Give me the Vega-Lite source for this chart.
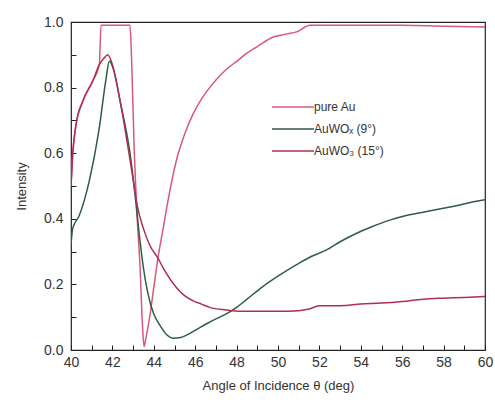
{
  "$schema": "https://vega.github.io/schema/vega-lite/v6.json",
  "width": 414,
  "height": 328,
  "autosize": "none",
  "padding": {"left": 71, "top": 22, "right": 10, "bottom": 54},
  "background": "white",
  "config": {
    "font": "Liberation Sans",
    "view": {"stroke": "#222", "strokeWidth": 1.2},
    "axis": {"grid": false, "domain": false, "labelColor": "#333", "titleColor": "#333", "labelFont": "Liberation Sans", "titleFont": "Liberation Sans", "titleFontWeight": "normal", "labelFontSize": 14, "titleFontSize": 13}
  },
  "data": {"values": [
    {"angle": 40.0, "intensity": 0.50, "series": "pure Au"},
    {"angle": 40.08, "intensity": 0.595, "series": "pure Au"},
    {"angle": 40.24, "intensity": 0.686, "series": "pure Au"},
    {"angle": 40.56, "intensity": 0.757, "series": "pure Au"},
    {"angle": 41.05, "intensity": 0.82, "series": "pure Au"},
    {"angle": 41.37, "intensity": 0.87, "series": "pure Au"},
    {"angle": 41.45, "intensity": 0.99, "series": "pure Au"},
    {"angle": 42.0, "intensity": 0.99, "series": "pure Au"},
    {"angle": 42.5, "intensity": 0.99, "series": "pure Au"},
    {"angle": 42.85, "intensity": 0.99, "series": "pure Au"},
    {"angle": 42.92, "intensity": 0.9, "series": "pure Au"},
    {"angle": 43.05, "intensity": 0.62, "series": "pure Au"},
    {"angle": 43.2, "intensity": 0.4, "series": "pure Au"},
    {"angle": 43.33, "intensity": 0.26, "series": "pure Au"},
    {"angle": 43.45, "intensity": 0.08, "series": "pure Au"},
    {"angle": 43.53, "intensity": 0.01, "series": "pure Au"},
    {"angle": 43.6, "intensity": 0.03, "series": "pure Au"},
    {"angle": 43.8, "intensity": 0.1, "series": "pure Au"},
    {"angle": 44.0, "intensity": 0.19, "series": "pure Au"},
    {"angle": 44.2, "intensity": 0.28, "series": "pure Au"},
    {"angle": 44.45, "intensity": 0.37, "series": "pure Au"},
    {"angle": 44.7, "intensity": 0.46, "series": "pure Au"},
    {"angle": 45.1, "intensity": 0.58, "series": "pure Au"},
    {"angle": 45.5, "intensity": 0.66, "series": "pure Au"},
    {"angle": 45.9, "intensity": 0.72, "series": "pure Au"},
    {"angle": 46.3, "intensity": 0.765, "series": "pure Au"},
    {"angle": 46.7, "intensity": 0.8, "series": "pure Au"},
    {"angle": 47.1, "intensity": 0.83, "series": "pure Au"},
    {"angle": 47.5, "intensity": 0.855, "series": "pure Au"},
    {"angle": 48.0, "intensity": 0.88, "series": "pure Au"},
    {"angle": 48.5, "intensity": 0.905, "series": "pure Au"},
    {"angle": 49.0, "intensity": 0.925, "series": "pure Au"},
    {"angle": 49.8, "intensity": 0.955, "series": "pure Au"},
    {"angle": 50.4, "intensity": 0.963, "series": "pure Au"},
    {"angle": 50.9, "intensity": 0.97, "series": "pure Au"},
    {"angle": 51.55, "intensity": 0.99, "series": "pure Au"},
    {"angle": 52.0, "intensity": 0.99, "series": "pure Au"},
    {"angle": 54.0, "intensity": 0.99, "series": "pure Au"},
    {"angle": 56.0, "intensity": 0.99, "series": "pure Au"},
    {"angle": 58.0, "intensity": 0.987, "series": "pure Au"},
    {"angle": 60.0, "intensity": 0.985, "series": "pure Au"},

    {"angle": 40.0, "intensity": 0.32, "series": "AuWOₓ (9°)"},
    {"angle": 40.08, "intensity": 0.37, "series": "AuWOₓ (9°)"},
    {"angle": 40.4, "intensity": 0.41, "series": "AuWOₓ (9°)"},
    {"angle": 40.9, "intensity": 0.52, "series": "AuWOₓ (9°)"},
    {"angle": 41.35, "intensity": 0.67, "series": "AuWOₓ (9°)"},
    {"angle": 41.7, "intensity": 0.83, "series": "AuWOₓ (9°)"},
    {"angle": 41.85, "intensity": 0.88, "series": "AuWOₓ (9°)"},
    {"angle": 42.0, "intensity": 0.865, "series": "AuWOₓ (9°)"},
    {"angle": 42.4, "intensity": 0.75, "series": "AuWOₓ (9°)"},
    {"angle": 42.85, "intensity": 0.6, "series": "AuWOₓ (9°)"},
    {"angle": 43.1, "intensity": 0.47, "series": "AuWOₓ (9°)"},
    {"angle": 43.3, "intensity": 0.35, "series": "AuWOₓ (9°)"},
    {"angle": 43.5, "intensity": 0.25, "series": "AuWOₓ (9°)"},
    {"angle": 43.8, "intensity": 0.15, "series": "AuWOₓ (9°)"},
    {"angle": 44.0, "intensity": 0.11, "series": "AuWOₓ (9°)"},
    {"angle": 44.3, "intensity": 0.075, "series": "AuWOₓ (9°)"},
    {"angle": 44.6, "intensity": 0.048, "series": "AuWOₓ (9°)"},
    {"angle": 44.95, "intensity": 0.036, "series": "AuWOₓ (9°)"},
    {"angle": 45.3, "intensity": 0.038, "series": "AuWOₓ (9°)"},
    {"angle": 45.6, "intensity": 0.046, "series": "AuWOₓ (9°)"},
    {"angle": 46.0, "intensity": 0.06, "series": "AuWOₓ (9°)"},
    {"angle": 46.55, "intensity": 0.08, "series": "AuWOₓ (9°)"},
    {"angle": 47.0, "intensity": 0.095, "series": "AuWOₓ (9°)"},
    {"angle": 47.5, "intensity": 0.11, "series": "AuWOₓ (9°)"},
    {"angle": 48.0, "intensity": 0.13, "series": "AuWOₓ (9°)"},
    {"angle": 48.5, "intensity": 0.155, "series": "AuWOₓ (9°)"},
    {"angle": 49.3, "intensity": 0.195, "series": "AuWOₓ (9°)"},
    {"angle": 50.0, "intensity": 0.225, "series": "AuWOₓ (9°)"},
    {"angle": 50.9, "intensity": 0.26, "series": "AuWOₓ (9°)"},
    {"angle": 51.6, "intensity": 0.285, "series": "AuWOₓ (9°)"},
    {"angle": 52.35, "intensity": 0.305, "series": "AuWOₓ (9°)"},
    {"angle": 53.0, "intensity": 0.33, "series": "AuWOₓ (9°)"},
    {"angle": 53.8, "intensity": 0.356, "series": "AuWOₓ (9°)"},
    {"angle": 54.5, "intensity": 0.375, "series": "AuWOₓ (9°)"},
    {"angle": 55.4, "intensity": 0.396, "series": "AuWOₓ (9°)"},
    {"angle": 56.2, "intensity": 0.41, "series": "AuWOₓ (9°)"},
    {"angle": 57.0, "intensity": 0.42, "series": "AuWOₓ (9°)"},
    {"angle": 57.8, "intensity": 0.43, "series": "AuWOₓ (9°)"},
    {"angle": 58.6, "intensity": 0.44, "series": "AuWOₓ (9°)"},
    {"angle": 59.3, "intensity": 0.45, "series": "AuWOₓ (9°)"},
    {"angle": 60.0, "intensity": 0.458, "series": "AuWOₓ (9°)"},

    {"angle": 40.0, "intensity": 0.50, "series": "AuWO₃ (15°)"},
    {"angle": 40.08, "intensity": 0.595, "series": "AuWO₃ (15°)"},
    {"angle": 40.24, "intensity": 0.686, "series": "AuWO₃ (15°)"},
    {"angle": 40.56, "intensity": 0.757, "series": "AuWO₃ (15°)"},
    {"angle": 41.05, "intensity": 0.82, "series": "AuWO₃ (15°)"},
    {"angle": 41.37, "intensity": 0.87, "series": "AuWO₃ (15°)"},
    {"angle": 41.6, "intensity": 0.89, "series": "AuWO₃ (15°)"},
    {"angle": 41.77, "intensity": 0.9, "series": "AuWO₃ (15°)"},
    {"angle": 42.0, "intensity": 0.87, "series": "AuWO₃ (15°)"},
    {"angle": 42.4, "intensity": 0.75, "series": "AuWO₃ (15°)"},
    {"angle": 42.8, "intensity": 0.6, "series": "AuWO₃ (15°)"},
    {"angle": 43.0, "intensity": 0.52, "series": "AuWO₃ (15°)"},
    {"angle": 43.2, "intensity": 0.44, "series": "AuWO₃ (15°)"},
    {"angle": 43.5, "intensity": 0.37, "series": "AuWO₃ (15°)"},
    {"angle": 43.8, "intensity": 0.32, "series": "AuWO₃ (15°)"},
    {"angle": 44.2, "intensity": 0.28, "series": "AuWO₃ (15°)"},
    {"angle": 44.5, "intensity": 0.245, "series": "AuWO₃ (15°)"},
    {"angle": 45.1, "intensity": 0.19, "series": "AuWO₃ (15°)"},
    {"angle": 45.5, "intensity": 0.165, "series": "AuWO₃ (15°)"},
    {"angle": 45.9, "intensity": 0.15, "series": "AuWO₃ (15°)"},
    {"angle": 46.3, "intensity": 0.14, "series": "AuWO₃ (15°)"},
    {"angle": 46.7, "intensity": 0.13, "series": "AuWO₃ (15°)"},
    {"angle": 47.5, "intensity": 0.122, "series": "AuWO₃ (15°)"},
    {"angle": 48.2, "intensity": 0.118, "series": "AuWO₃ (15°)"},
    {"angle": 49.0, "intensity": 0.118, "series": "AuWO₃ (15°)"},
    {"angle": 50.0, "intensity": 0.118, "series": "AuWO₃ (15°)"},
    {"angle": 51.0, "intensity": 0.12, "series": "AuWO₃ (15°)"},
    {"angle": 51.5, "intensity": 0.125, "series": "AuWO₃ (15°)"},
    {"angle": 52.0, "intensity": 0.135, "series": "AuWO₃ (15°)"},
    {"angle": 53.0, "intensity": 0.135, "series": "AuWO₃ (15°)"},
    {"angle": 54.0, "intensity": 0.14, "series": "AuWO₃ (15°)"},
    {"angle": 55.0, "intensity": 0.143, "series": "AuWO₃ (15°)"},
    {"angle": 56.0, "intensity": 0.148, "series": "AuWO₃ (15°)"},
    {"angle": 57.0, "intensity": 0.155, "series": "AuWO₃ (15°)"},
    {"angle": 58.0, "intensity": 0.158, "series": "AuWO₃ (15°)"},
    {"angle": 59.0, "intensity": 0.16, "series": "AuWO₃ (15°)"},
    {"angle": 60.0, "intensity": 0.163, "series": "AuWO₃ (15°)"}
  ]},
  "mark": {"type": "line", "strokeWidth": 1.5, "interpolate": "monotone", "clip": true},
  "encoding": {
    "x": {"field": "angle", "type": "quantitative", "scale": {"domain": [40, 60], "nice": false, "zero": false},
      "axis": {"orient": "bottom", "title": "Angle of Incidence θ (deg)", "tickCount": 20,
        "labelExpr": "datum.value % 2 === 0 ? datum.label : ''",
        "ticks": true, "tickColor": "#222", "tickWidth": 1, "tickSize": 5, "offset": -5, "labelPadding": 5, "titlePadding": 10, "labelFlush": false}},
    "y": {"field": "intensity", "type": "quantitative", "scale": {"domain": [0, 1], "nice": false},
      "axis": {"orient": "left", "title": "Intensity", "tickCount": 10,
        "labelExpr": "round(datum.value*10) % 2 === 0 ? format(datum.value, '.1f') : ''",
        "ticks": true, "tickColor": "#222", "tickWidth": 1, "tickSize": 5, "offset": -5, "labelPadding": 8, "titlePadding": 15, "labelFlush": false}},
    "color": {"field": "series", "type": "nominal",
      "scale": {"domain": ["pure Au", "AuWOₓ (9°)", "AuWO₃ (15°)"], "range": ["#d8587c", "#2f5d40", "#b02e52"]},
      "legend": {"orient": "none", "legendX": 214, "legendY": 77, "title": null, "symbolType": "M-3,0H3", "symbolSize": 196,
        "symbolStrokeWidth": 1.5, "labelFontSize": 12, "labelColor": "#333", "labelFont": "Liberation Sans", "rowPadding": 8, "labelOffset": 13}}
  }
}
